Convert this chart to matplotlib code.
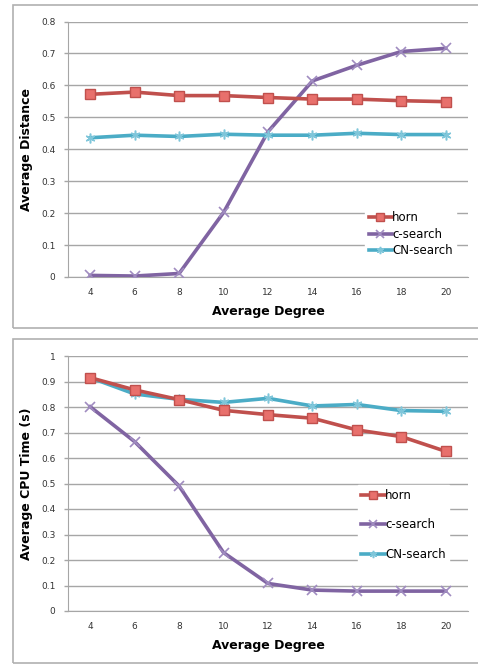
import matplotlib
matplotlib.use("Agg")
import matplotlib.pyplot as plt
from matplotlib.patches import Rectangle

degree = [4, 6, 8, 10, 12, 14, 16, 18, 20]

dist_horn = [0.572, 0.579, 0.568, 0.568, 0.562, 0.557, 0.557, 0.552, 0.549]
dist_csearch = [0.005, 0.003, 0.011, 0.202, 0.455, 0.614, 0.663, 0.706, 0.716]
dist_cn = [0.436, 0.444, 0.440, 0.447, 0.444, 0.444, 0.450, 0.446, 0.446]

cpu_horn = [0.915, 0.867, 0.829, 0.787, 0.770, 0.756, 0.710, 0.684, 0.626]
cpu_csearch = [0.801, 0.664, 0.490, 0.229, 0.108, 0.082, 0.078, 0.078, 0.078]
cpu_cn = [0.915, 0.851, 0.830, 0.818, 0.834, 0.804, 0.810, 0.786, 0.783]

RED = "#C0504D"
RED_FILL = "#E8706C"
PURPLE = "#8064A2"
PURPLE_M = "#A08CC0"
CYAN = "#4BACC6"
CYAN_M = "#7FC6DA"
GRID = "#A6A6A6"

fig = plt.figure(figsize=(4.78, 6.65), dpi=100)

# outer frames (right side runs off the picture)
for (y0, y1) in [(5, 328), (339, 663)]:
    fig.patches.append(Rectangle((13 / 478, 1 - y1 / 665), 0.99, (y1 - y0) / 665,
                                 transform=fig.transFigure, fill=False,
                                 edgecolor="#B0B0B0", linewidth=1.2, clip_on=False))


def draw(ax, horn, csearch, cn, ymax, ystep, ylabel, legend_kw):
    x = range(len(degree))
    ax.plot(x, horn, color=RED, lw=2.6, marker="s", ms=7,
            mfc=RED_FILL, mec=RED, mew=1, label="horn", zorder=4)
    ax.plot(x, csearch, color=PURPLE, lw=2.6, marker="x", ms=7,
            mec=PURPLE_M, mew=1.2, label="c-search", zorder=3)
    ax.plot(x, cn, color=CYAN, lw=2.6, marker=(6, 2, 0), ms=7,
            mec=CYAN_M, mew=1.1, label="CN-search", zorder=3)
    ax.set_xlim(-0.5, len(degree) - 0.5)
    ax.set_xticks(list(x))
    ax.set_xticklabels([str(d) for d in degree])
    ax.set_ylim(0, ymax)
    n = int(round(ymax / ystep))
    ticks = [round(i * ystep, 1) for i in range(n + 1)]
    ax.set_yticks(ticks)
    ax.set_yticklabels(["%g" % t for t in ticks])
    ax.grid(axis="y", color=GRID, lw=1)
    ax.set_axisbelow(True)
    for s in ["top", "right"]:
        ax.spines[s].set_visible(False)
    ax.spines["left"].set_color(GRID)
    ax.spines["bottom"].set_color(GRID)
    ax.tick_params(axis="x", length=0, labelsize=6.5, pad=8, colors="#333333")
    ax.tick_params(axis="y", length=3, width=1, color=GRID, labelsize=6.5,
                   pad=6, colors="#333333")
    ax.set_xlabel("Average Degree", fontsize=9, fontweight="bold", labelpad=6)
    ax.set_ylabel(ylabel, fontsize=9, fontweight="bold", labelpad=6)
    leg = ax.legend(frameon=True, fancybox=False, fontsize=8.5,
                    handlelength=2.0, handletextpad=0.0, borderpad=0.3,
                    markerscale=0.75, **legend_kw)
    leg.get_frame().set_edgecolor("white")
    leg.get_frame().set_facecolor("white")
    leg.get_frame().set_alpha(1)


ax1 = fig.add_axes([68 / 478, 1 - 277 / 665, 400 / 478, 255.5 / 665])
draw(ax1, dist_horn, dist_csearch, dist_cn, 0.8, 0.1, "Average Distance",
     dict(loc="lower left", bbox_to_anchor=(0.728, 0.04), labelspacing=0.3))

ax2 = fig.add_axes([68 / 478, 1 - 611 / 665, 400 / 478, 255 / 665])
draw(ax2, cpu_horn, cpu_csearch, cpu_cn, 1.0, 0.1, "Average CPU Time (s)",
     dict(loc="lower left", bbox_to_anchor=(0.71, 0.16), labelspacing=1.4))

fig.savefig("out.png", dpi=100)
